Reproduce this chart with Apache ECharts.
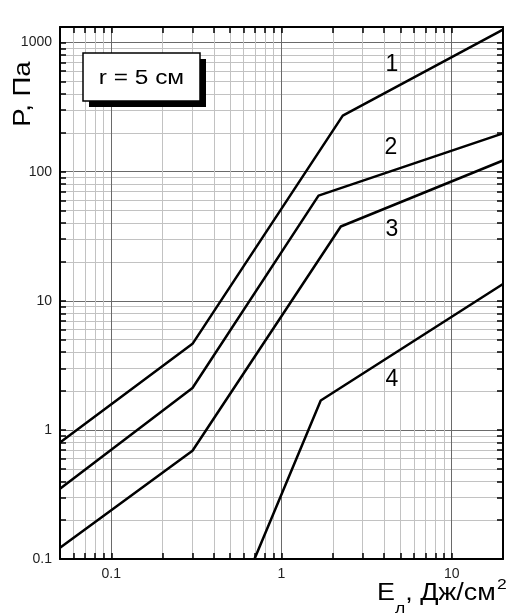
<!DOCTYPE html>
<html>
<head>
<meta charset="utf-8">
<script src="https://cdn.jsdelivr.net/npm/echarts@6/dist/echarts.min.js"></script>
<style>
  html, body { margin: 0; padding: 0; background: #fff; }
  #chart { width: 531px; height: 615px; }
</style>
</head>
<body>
<div id="chart"></div>
<script>
// axis ranges (log scale)
const xMin = 0.05, xMax = 20;
const yMin = 0.1, yMax = 1320;

// tick / grid positions
const xMajor = [0.1, 1, 10];
const xTicks = [0.05, 0.06, 0.07, 0.08, 0.09, 0.1, 0.2, 0.3, 0.4, 0.5, 0.6, 0.7, 0.8, 0.9,
  1, 2, 3, 4, 5, 6, 7, 8, 9, 10, 20];
const yMajor = [0.1, 1, 10, 100, 1000];
const yTicks = [0.1, 0.2, 0.3, 0.4, 0.5, 0.6, 0.7, 0.8, 0.9, 1, 2, 3, 4, 5, 6, 7, 8, 9,
  10, 20, 30, 40, 50, 60, 70, 80, 90, 100, 200, 300, 400, 500, 600, 700, 800, 900, 1000];

// curves: [E, P]
const curve1 = [[0.05, 0.80], [0.3, 4.64], [2.29, 272], [20, 1260]];
const curve2 = [[0.05, 0.35], [0.3, 2.11], [1.65, 65.3], [20, 198]];
const curve3 = [[0.05, 0.122], [0.3, 0.69], [2.23, 37.6], [20, 122]];
const curve4 = [[0.694, 0.1], [1.70, 1.69], [20, 13.5]];
const curves = [curve1, curve2, curve3, curve4];
const curveNames = ["1", "2", "3", "4"];

const font = "'Liberation Sans', Arial, sans-serif";
const majorGrid = "#6a6a6a";
const minorGrid = "#c2c2c2";

const gridColors = (ticks, major) =>
  ticks.map((v) => (major.includes(v) ? majorGrid : minorGrid));

function makeAxis(position, min, max, ticks, major, withLabels) {
  return {
    type: "log",
    logBase: 10,
    position: position,
    min: min,
    max: max,
    axisLine: { show: true, lineStyle: { color: "#000", width: 2 } },
    axisTick: {
      show: true,
      inside: true,
      length: 6,
      customValues: ticks,
      lineStyle: { color: "#000", width: 1.5 },
    },
    axisLabel: {
      show: withLabels,
      customValues: major,
      color: "#222",
      fontSize: 14,
      fontFamily: font,
      margin: 8,
      formatter: (v) => String(+(+v).toPrecision(3)),
    },
    splitLine: {
      show: withLabels,
      customValues: ticks,
      lineStyle: { color: gridColors(ticks, major), width: 1 },
    },
  };
}

const numStyle = (t) => ({
  text: t, font: "23px " + font, fill: "#000", align: "center", verticalAlign: "middle",
});

const chart = echarts.init(document.getElementById("chart"));
chart.setOption({
  animation: false,
  backgroundColor: "#fff",
  grid: { left: 60, right: 28, top: 27, bottom: 56, containLabel: false },
  xAxis: [
    makeAxis("bottom", xMin, xMax, xTicks, xMajor, true),
    makeAxis("top", xMin, xMax, xTicks, xMajor, false),
  ],
  yAxis: [
    makeAxis("left", yMin, yMax, yTicks, yMajor, true),
    makeAxis("right", yMin, yMax, yTicks, yMajor, false),
  ],
  series: curves.map((data, i) => ({
    name: curveNames[i],
    type: "line",
    data: data,
    showSymbol: false,
    symbol: "none",
    z: 5,
    lineStyle: { color: "#000", width: 2.5 },
  })),
  graphic: [
    // "r = 5 см" box with shadow
    { type: "rect", shape: { x: 89, y: 59, width: 117, height: 48 }, style: { fill: "#000" }, z: 10 },
    {
      type: "rect",
      shape: { x: 83, y: 53, width: 117, height: 48 },
      style: { fill: "#fff", stroke: "#000", lineWidth: 1.5 },
      z: 11,
    },
    {
      type: "text",
      x: 141.5, y: 78, scaleX: 1.22, z: 12,
      style: { text: "r = 5 см", font: "20px " + font, fill: "#000", align: "center", verticalAlign: "middle" },
    },
    // curve numbers
    { type: "text", x: 392, y: 65, z: 12, style: numStyle("1") },
    { type: "text", x: 391, y: 148, z: 12, style: numStyle("2") },
    { type: "text", x: 392, y: 230, z: 12, style: numStyle("3") },
    { type: "text", x: 392, y: 380, z: 12, style: numStyle("4") },
    // y axis title
    {
      type: "text",
      x: 24, y: 94, rotation: Math.PI / 2, scaleX: 1.2, z: 12,
      style: { text: "P, Па", font: "23px " + font, fill: "#000", align: "center", verticalAlign: "middle" },
    },
    // x axis title with subscript / superscript
    {
      type: "text",
      x: 377, y: 572, scaleX: 1.17, z: 12,
      style: {
        text: "{m|E}{s|л}{m|, Дж/см}{p|2}",
        align: "left",
        verticalAlign: "top",
        fill: "#000",
        rich: {
          m: { fontSize: 23, fontFamily: font, lineHeight: 44, verticalAlign: "middle" },
          s: { fontSize: 15, fontFamily: font, lineHeight: 15, verticalAlign: "bottom" },
          p: { fontSize: 15, fontFamily: font, lineHeight: 15, verticalAlign: "top", padding: [5, 0, 0, 1] },
        },
      },
    },
  ],
});
</script>
</body>
</html>
